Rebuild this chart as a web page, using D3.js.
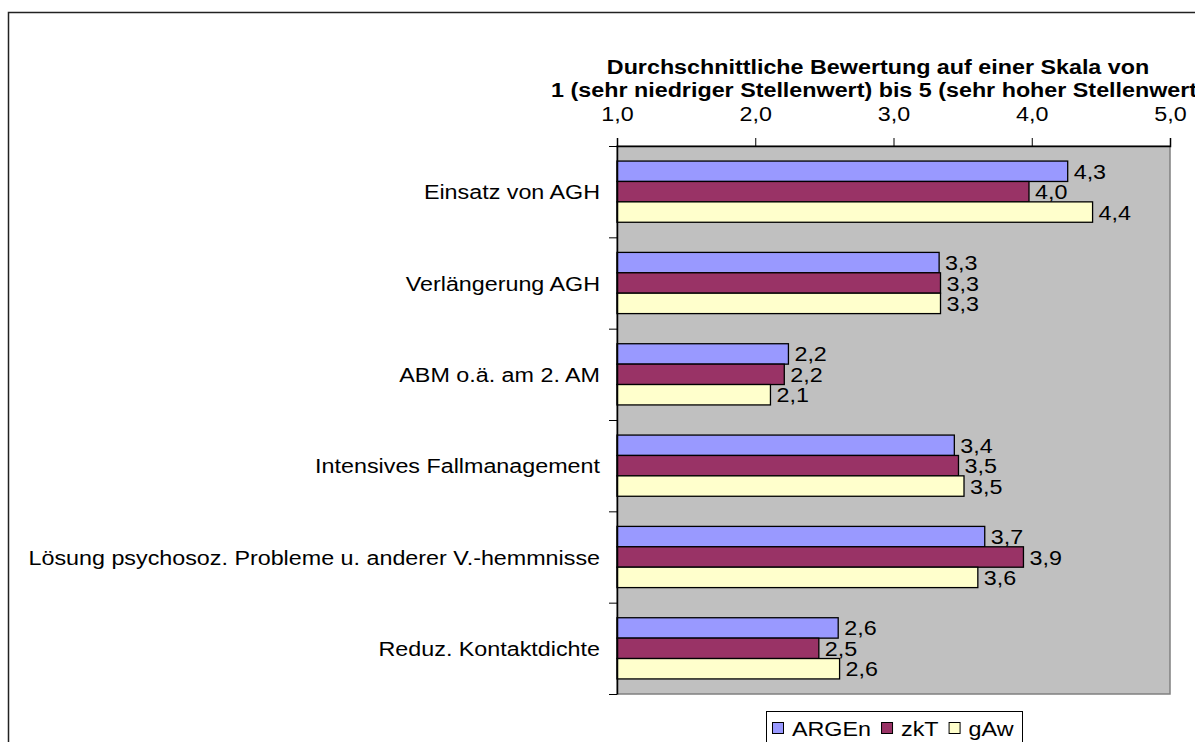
<!DOCTYPE html>
<html>
<head>
<meta charset="utf-8">
<script src="https://cdn.jsdelivr.net/npm/d3@7"></script>
<style>
  html, body { margin: 0; padding: 0; background: #fff; }
  svg { display: block; font-family: "Liberation Sans", Arial, sans-serif; }
</style>
</head>
<body>
<div id="chart"></div>
<script>
const categories = [
  "Einsatz von AGH",
  "Verlängerung AGH",
  "ABM o.ä. am 2. AM",
  "Intensives Fallmanagement",
  "Lösung psychosoz. Probleme u. anderer V.-hemmnisse",
  "Reduz. Kontaktdichte"
]
const seriesNames = ["ARGEn", "zkT", "gAw"]
const argen = [4.26, 3.33, 2.24, 3.44, 3.66, 2.60]
const zkt = [3.98, 3.34, 2.21, 3.47, 3.94, 2.46]
const gaw = [4.44, 3.34, 2.11, 3.51, 3.61, 2.61]
const xTicks = [1, 2, 3, 4, 5]
const titleLines = [
  "Durchschnittliche Bewertung auf einer Skala von",
  "1 (sehr niedriger Stellenwert) bis 5 (sehr hoher Stellenwert)"
]

const width = 1195, height = 742
const margin = { top: 146, right: 25, bottom: 48, left: 617 }
const innerW = 1170 - margin.left
const innerH = 694 - margin.top
const fs = 21
const sx = 1.11 // the source image is a bit wider than tall
const colors = new Map([["ARGEn", "#9999ff"], ["zkT", "#993366"], ["gAw", "#ffffcc"]])
const fmt = v => d3.format(".1f")(v).replace(".", ",")

// widen text horizontally around its x anchor
function stretch(sel) {
  sel.each(function() {
    const t = d3.select(this)
    const x0 = +t.attr("x") || 0
    t.attr("x", 0).attr("transform", `translate(${x0},0) scale(${sx},1)`)
  })
}

const rows = categories.map((c, i) => ({
  cat: c,
  vals: [argen[i], zkt[i], gaw[i]].map((v, j) => ({ series: seriesNames[j], val: v }))
}))

const svg = d3.select("#chart").append("svg").attr("width", width).attr("height", height)

// outer chart frame
svg.append("rect").attr("x", 8.5).attr("y", 12.5).attr("width", 1220).attr("height", 800)
  .attr("fill", "#fff").attr("stroke", "#222").attr("stroke-width", 1.5)

const g = svg.append("g").attr("transform", `translate(${margin.left},${margin.top})`)

const x = d3.scaleLinear().domain([1, 5]).range([0, innerW])
const y = d3.scaleBand().domain(categories).range([0, innerH]).paddingInner(0.33).paddingOuter(0.165)
const ySub = d3.scaleBand().domain(seriesNames).range([0, y.bandwidth()])
const yEdge = d3.scaleLinear().domain([0, categories.length]).range([0, innerH])

g.append("rect").attr("x", 0).attr("y", 0).attr("width", innerW).attr("height", innerH)
  .attr("fill", "#c0c0c0").attr("stroke", "#808080").attr("stroke-width", 1.5)

// bars
const grp = g.selectAll("g.cat").data(rows).join("g").attr("class", "cat")
  .attr("transform", d => `translate(0,${y(d.cat)})`)
grp.selectAll("rect").data(d => d.vals).join("rect")
  .attr("x", x(1))
  .attr("y", d => ySub(d.series))
  .attr("width", d => x(d.val) - x(1))
  .attr("height", ySub.bandwidth())
  .attr("fill", d => colors.get(d.series))
  .attr("stroke", "#000").attr("stroke-width", 1.3)
grp.selectAll("text").data(d => d.vals).join("text")
  .attr("x", d => x(d.val) + 6)
  .attr("y", d => ySub(d.series) + ySub.bandwidth() / 2)
  .attr("dy", "0.36em")
  .style("font-size", fs + "px").attr("fill", "#000")
  .text(d => fmt(d.val))
  .call(stretch)

// top value axis
const xa = g.append("g").call(d3.axisTop(x).tickValues(xTicks).tickFormat(fmt).tickSize(8).tickPadding(17))
xa.select(".domain").attr("stroke", "#000").attr("stroke-width", 1.5)
xa.selectAll(".tick line").attr("stroke", "#000")
xa.selectAll("text").style("font-size", fs + "px").attr("fill", "#000").call(stretch)
xa.attr("font-family", null)

// left category axis
const ya = g.append("g").call(d3.axisLeft(yEdge).tickValues(d3.range(categories.length + 1)).tickFormat("").tickSize(8).tickSizeOuter(0))
ya.select(".domain").attr("stroke", "#000").attr("stroke-width", 1.5)
ya.selectAll(".tick line").attr("stroke", "#000")

g.selectAll("text.cat-label").data(categories).join("text").attr("class", "cat-label")
  .attr("x", -17)
  .attr("y", d => y(d) + y.bandwidth() / 2)
  .attr("dy", "0.36em")
  .attr("text-anchor", "end")
  .style("font-size", fs + "px")
  .text(d => d)
  .call(stretch)

// title
svg.append("g").selectAll("text").data(titleLines).join("text")
  .attr("x", 878)
  .attr("y", (d, i) => 74 + i * 23)
  .attr("text-anchor", "middle")
  .style("font-size", fs + "px").style("font-weight", "bold")
  .text(d => d)
  .call(stretch)

// legend
const legend = svg.append("g").attr("transform", "translate(766,711)")
legend.append("rect").attr("x", 0.5).attr("y", 0.5).attr("width", 256).attr("height", 40)
  .attr("fill", "#fff").attr("stroke", "#000")
let lx = 6
for (const name of seriesNames) {
  legend.append("rect").attr("x", lx + 0.5).attr("y", 11.5).attr("width", 11).attr("height", 11)
    .attr("fill", colors.get(name)).attr("stroke", "#000")
  const t = legend.append("text").attr("x", lx + 20).attr("y", 25)
    .style("font-size", fs + "px").text(name)
  const w = t.node().getComputedTextLength() * sx
  t.call(stretch)
  lx += 20 + w + 10
}
</script>
</body>
</html>
